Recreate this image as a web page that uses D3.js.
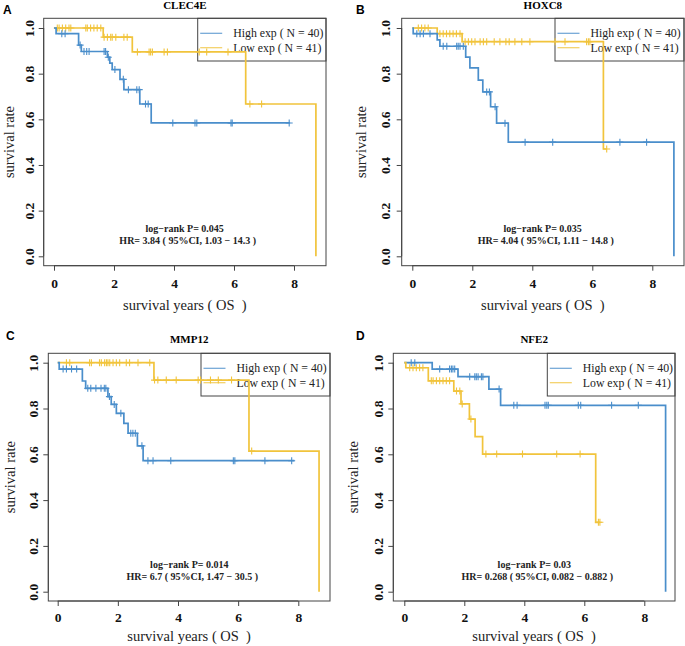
<!DOCTYPE html>
<html><head><meta charset="utf-8">
<script src="https://cdn.jsdelivr.net/npm/d3@7"></script>
<style>body{margin:0;background:#fff}svg{display:block}</style>
</head><body>
<script>
// ---------- DATA ----------
const genes = ["CLEC4E", "HOXC8", "MMP12", "NFE2"];
const panelLetters = ["A", "B", "C", "D"];
const legendLabels = ["High exp ( N = 40)", "Low exp ( N = 41)"];
const pValues = ["0.045", "0.035", "0.014", "0.03"];
const hrTexts = ["3.84 ( 95%CI, 1.03 \u2212 14.3 )", "4.04 ( 95%CI, 1.11 \u2212 14.8 )", "6.7 ( 95%CI, 1.47 \u2212 30.5 )", "0.268 ( 95%CI, 0.082 \u2212 0.882 )"];
const xTicks = [0, 2, 4, 6, 8];
const yTicks = [0, 0.2, 0.4, 0.6, 0.8, 1.0];

// step curves: [time, survival]; last entry = end of follow-up
const highA = [[0,1],[0.07,0.975],[0.82,0.925],[0.91,0.897],[1.78,0.872],[1.86,0.846],[1.94,0.818],[2.2,0.775],[2.33,0.73],[2.86,0.667],[3.24,0.584],[7.87,0.584]];
const highA_cens = [0.26,0.37,0.87,1.0,1.09,1.17,1.67,1.72,1.81,2.03,2.31,2.48,2.76,2.84,3.05,3.14,3.96,4.7,4.76,5.9,5.94,7.84];
const lowA = [[0,1],[1.64,0.96],[2.61,0.895],[6.39,0.667],[8.73,0],[8.73,0]];
const lowA_cens = [0.11,0.17,0.28,0.39,0.5,0.56,1.06,1.11,1.22,1.33,1.44,1.56,1.67,1.78,1.89,1.94,2.06,2.33,2.44,2.78,3.17,3.22,3.28,3.67,3.78,4.84,5.09,5.8,6.53,6.92];

const highB = [[0,1],[0.03,0.975],[0.83,0.948],[0.92,0.92],[1.78,0.872],[1.92,0.825],[2.2,0.772],[2.35,0.72],[2.61,0.655],[2.81,0.583],[3.2,0.5],[8.72,0],[8.72,0]];
const highB_cens = [0.15,0.26,0.37,0.59,1.03,1.15,1.48,1.53,1.59,1.7,2.48,2.57,2.76,3.09,3.76,4.68,6.92,7.81];
const lowB = [[0,1],[0.83,0.975],[1.66,0.94],[6.37,0.47],[6.48,0.47]];
const lowB_cens = [0.2,0.31,0.42,0.53,0.92,1.03,1.14,1.25,1.36,1.47,1.59,1.76,1.87,1.98,2.09,2.26,2.37,2.48,2.73,2.92,3.12,3.23,3.42,3.65,3.92,4.76,5.09,5.81,5.87,5.92,6.48];

const highC = [[0,1],[0.05,0.972],[0.82,0.92],[0.93,0.888],[1.67,0.852],[1.78,0.818],[1.95,0.779],[2.2,0.735],[2.34,0.692],[2.65,0.637],[2.84,0.572],[7.87,0.572]];
const highC_cens = [0.18,0.29,0.46,0.63,1.0,1.1,1.27,1.44,1.55,1.6,1.72,1.88,2.1,2.43,2.5,2.58,2.8,3.0,3.17,3.76,5.84,5.89,6.89,7.78];
const lowC = [[0,1],[3.2,0.924],[6.36,0.614],[8.69,0],[8.69,0]];
const lowC_cens = [0.29,0.4,1.06,1.12,1.39,1.45,1.56,1.62,1.67,1.73,1.84,1.95,2.06,2.28,2.39,2.67,3.06,3.22,3.33,3.61,3.94,4.67,4.75,5.08,5.34,5.78,6.45];

const highD = [[0,1],[0.93,0.972],[1.79,0.939],[2.82,0.885],[3.21,0.814],[8.71,0],[8.71,0]];
const highD_cens = [0.23,0.35,1.18,1.51,1.57,1.62,1.68,2.18,2.35,2.4,2.46,2.57,2.62,3.16,3.65,3.76,4.69,4.75,4.8,5.8,5.88,6.91,7.8];
const lowD = [[0,1],[0.05,0.978],[0.8,0.921],[1.65,0.876],[1.89,0.82],[2.17,0.754],[2.36,0.677],[2.61,0.601],[6.38,0.303],[6.52,0.303]];
const lowD_cens = [0.18,0.29,0.4,0.51,0.62,0.9,0.96,1.07,1.18,1.29,1.4,1.51,1.74,1.85,1.93,2.22,2.72,3.08,3.94,5.08,5.86,6.47,6.52];

const highCurves = [highA, highB, highC, highD];
const highCens = [highA_cens, highB_cens, highC_cens, highD_cens];
const lowCurves = [lowA, lowB, lowC, lowD];
const lowCens = [lowA_cens, lowB_cens, lowC_cens, lowD_cens];

// ---------- LAYOUT ----------
const BLUE = "#4a8ecb", YELLOW = "#f1c43c";
const layout = [
  {bl:43.7, br:326, bt:18.3, bb:265.7, x0:54, x8:294, y1:28, y0:256.3, letX:3, letY:13.5, titleY:8.5, xlabY:288.5, xtitY:310, ylabX:33.5, ytitX:13.5, legL:197.7},
  {bl:401.7, br:684, bt:18.3, bb:265.7, x0:412.3, x8:652.3, y1:28, y0:256.3, letX:356, letY:13.5, titleY:8.5, xlabY:288.5, xtitY:310, ylabX:390, ytitX:365.5, legL:555},
  {bl:48.3, br:330, bt:353.3, bb:601, x0:57.7, x8:298.3, y1:362.7, y0:591.7, letX:6, letY:340, titleY:343.3, xlabY:622, xtitY:641, ylabX:38, ytitX:15, legL:201},
  {bl:393.3, br:675, bt:353.3, bb:601, x0:404.3, x8:644.3, y1:362.7, y0:591.7, letX:356, letY:340, titleY:343.3, xlabY:622, xtitY:641, ylabX:383.3, ytitX:358, legL:547.3}
];

const W = 685, H = 646;
const svg = d3.select("body").append("svg").attr("width", W).attr("height", H);
const serif = "'Liberation Serif','Times New Roman',serif";
const sans = "'Liberation Sans',Arial,sans-serif";

function survAt(curve, t) {
  let s = curve[0][1];
  for (const [tt, ss] of curve) { if (tt <= t) s = ss; }
  return s;
}

layout.forEach((L, i) => {
  const g = svg.append("g");
  const x = d3.scaleLinear().domain([0, 8]).range([L.x0, L.x8]);
  const y = d3.scaleLinear().domain([0, 1]).range([L.y0, L.y1]);

  // panel letter & title
  g.append("text").attr("x", L.letX).attr("y", L.letY).text(panelLetters[i])
    .attr("font-family", sans).attr("font-weight", "bold").attr("font-size", 12);
  g.append("text").attr("x", (L.bl + L.br) / 2).attr("y", L.titleY).text(genes[i])
    .attr("text-anchor", "middle").attr("font-family", serif).attr("font-weight", "bold").attr("font-size", 11);

  // axes
  const xAxis = d3.axisBottom(x).tickValues(xTicks).tickSize(5).tickFormat(d3.format("d"));
  const gx = g.append("g").attr("transform", `translate(0,${L.bb})`).call(xAxis);
  gx.select(".domain").attr("d", `M${x(0)},0H${x(8)}`).attr("stroke", "#444");
  gx.selectAll(".tick line").attr("stroke", "#444");
  gx.selectAll(".tick text").attr("y", L.xlabY - L.bb).attr("dy", 0)
    .attr("font-family", serif).attr("font-weight", "bold").attr("font-size", 13.5).attr("fill", "#111");

  const yAxis = d3.axisLeft(y).tickValues(yTicks).tickSize(5).tickFormat(d3.format(".1f"));
  const gy = g.append("g").attr("transform", `translate(${L.bl},0)`).call(yAxis);
  gy.select(".domain").attr("d", `M0,${y(0)}V${y(1)}`).attr("stroke", "#444");
  gy.selectAll(".tick line").attr("stroke", "#444");
  gy.selectAll(".tick text").attr("x", null).attr("dy", 0)
    .attr("transform", `translate(${L.ylabX - L.bl},0) rotate(-90)`)
    .attr("text-anchor", "middle")
    .attr("font-family", serif).attr("font-weight", "bold").attr("font-size", 13.5).attr("fill", "#111");

  // box
  g.append("rect").attr("x", L.bl).attr("y", L.bt).attr("width", L.br - L.bl).attr("height", L.bb - L.bt)
    .attr("fill", "none").attr("stroke", "#444").attr("stroke-width", 1);

  // axis titles
  g.append("text").attr("x", (L.bl + L.br) / 2).attr("y", L.xtitY).text("survival years ( OS  )")
    .attr("text-anchor", "middle").attr("font-family", serif).attr("font-size", 14.5).attr("fill", "#222")
    .style("white-space", "pre");
  g.append("text").attr("transform", `translate(${L.ytitX},${(L.bt + L.bb) / 2}) rotate(-90)`)
    .text("survival rate").attr("text-anchor", "middle").attr("font-family", serif).attr("font-size", 14.5).attr("fill", "#222");

  // legend
  const lg = g.append("g");
  lg.append("rect").attr("x", L.legL).attr("y", L.bt).attr("width", L.br - L.legL).attr("height", 42.7)
    .attr("fill", "none").attr("stroke", "#444").attr("stroke-width", 1);
  [BLUE, YELLOW].forEach((c, k) => {
    const ly = L.bt + 15 + k * 14.4;
    lg.append("line").attr("x1", L.legL + 2.5).attr("x2", L.legL + 24.5).attr("y1", ly).attr("y2", ly)
      .attr("stroke", c).attr("stroke-width", 1.2).attr("opacity", 0.8);
    lg.append("text").attr("x", L.legL + 35.5).attr("y", ly + 4).text(legendLabels[k])
      .attr("font-family", serif).attr("font-size", 11.8).attr("fill", "#222");
  });

  // annotations
  const ax = L.bl + 141;
  g.append("text").attr("x", ax).attr("y", L.bb - 33.5).text("log\u2212rank P= " + pValues[i])
    .attr("text-anchor", "middle").attr("font-family", serif).attr("font-weight", "bold").attr("font-size", 10).attr("fill", "#222");
  g.append("text").attr("x", ax + 3).attr("y", L.bb - 21.5).text("HR= " + hrTexts[i])
    .attr("text-anchor", "middle").attr("font-family", serif).attr("font-weight", "bold").attr("font-size", 10).attr("fill", "#222");

  // curves
  const line = d3.line().x(d => x(d[0])).y(d => y(d[1])).curve(d3.curveStepAfter);
  const series = [
    {curve: lowCurves[i], cens: lowCens[i], color: YELLOW},
    {curve: highCurves[i], cens: highCens[i], color: BLUE}
  ];
  if (i === 3) series.reverse();
  series.forEach(s => {
    g.append("path").datum(s.curve).attr("d", line).attr("fill", "none")
      .attr("stroke", s.color).attr("stroke-width", 1.7);
    g.append("g").selectAll("path").data(s.cens).join("path")
      .attr("d", t => {
        const px = x(t), py = y(survAt(s.curve, t));
        return `M${px - 3.5},${py}H${px + 3.5}M${px},${py - 3.5}V${py + 3.5}`;
      })
      .attr("stroke", s.color).attr("stroke-width", 1.1).attr("fill", "none");
  });
});
</script>
</body></html>
